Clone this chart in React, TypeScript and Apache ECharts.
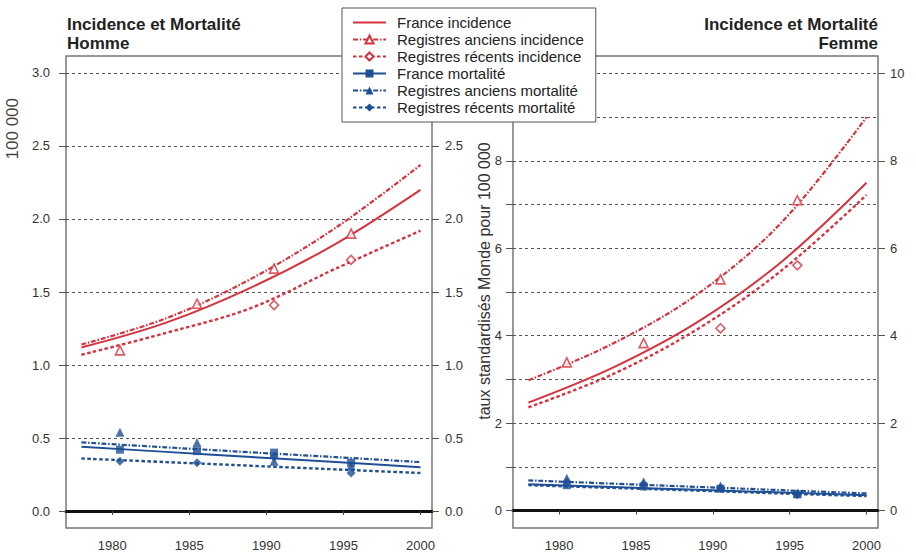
import React, { useEffect, useRef } from 'react';
import * as echarts from 'echarts';

// ---- data ----
const curveYears = [1978, 1983.5, 1989, 1994.5, 2000];
const pointYears = [1980.5, 1985.5, 1990.5, 1995.5];
const recentIncPointYears = [1990.5, 1995.5];
const xTickYears = [1980, 1985, 1990, 1995, 2000];
const hommeTicks = [0, 0.5, 1, 1.5, 2, 2.5, 3];
const hommeRightLabels = [0, 0.5, 1, 1.5, 2, 2.5];
const femmeGridTicks = [0, 1, 2, 3, 4, 5, 6, 7, 8, 9, 10];
const femmeLeftLabels = [0, 2, 4, 6, 8];
const femmeRightLabels = [0, 2, 4, 6, 8, 10];

const seriesNames = [
  'France incidence',
  'Registres anciens incidence',
  'Registres récents incidence',
  'France mortalité',
  'Registres anciens mortalité',
  'Registres récents mortalité',
];

// Homme fitted curves
const hFranceInc = [1.12, 1.29, 1.53, 1.83, 2.2];
const hAnciensInc = [1.14, 1.32, 1.59, 1.94, 2.37];
const hRecentsInc = [1.07, 1.22, 1.39, 1.66, 1.92];
const hFranceMort = [0.44, 0.405, 0.37, 0.335, 0.3];
const hAnciensMort = [0.47, 0.436, 0.402, 0.369, 0.335];
const hRecentsMort = [0.36, 0.335, 0.31, 0.285, 0.26];
// Homme observed points
const hAnciensIncPts = [1.1, 1.42, 1.66, 1.9];
const hRecentsIncPts = [1.41, 1.72];
const hFranceMortPts = [0.42, 0.41, 0.4, 0.33];
const hAnciensMortPts = [0.54, 0.47, 0.34, 0.31];
const hRecentsMortPts = [0.34, 0.33, 0.37, 0.26];

// Femme fitted curves
const fFranceInc = [2.47, 3.27, 4.31, 5.7, 7.5];
const fAnciensInc = [2.98, 3.82, 4.95, 6.6, 9.0];
const fRecentsInc = [2.36, 3.12, 4.15, 5.5, 7.22];
const fFranceMort = [0.6, 0.537, 0.475, 0.412, 0.35];
const fAnciensMort = [0.69, 0.615, 0.54, 0.465, 0.39];
const fRecentsMort = [0.58, 0.517, 0.455, 0.39, 0.33];
// Femme observed points
const fAnciensIncPts = [3.39, 3.83, 5.29, 7.1];
const fRecentsIncPts = [4.17, 5.61];
const fFranceMortPts = [0.58, 0.55, 0.5, 0.37];
const fAnciensMortPts = [0.74, 0.66, 0.56, 0.4];
const fRecentsMortPts = [0.66, 0.6, 0.52, 0.36];

const RED = '#d6333f';
const BLUE = '#1f4f94';
const DASHDOT = [5, 1.8, 1.5, 1.8];
const DASHED = [3.5, 2.5];
const FONT = '"Liberation Sans", Arial, Helvetica, sans-serif';

type Style = { color: string; dash: any; symbol: string; hollow: boolean; width: number };
const styles: Style[] = [
  { color: RED, dash: 'solid', symbol: 'none', hollow: false, width: 2 },
  { color: RED, dash: DASHDOT, symbol: 'triangle', hollow: true, width: 2.2 },
  { color: RED, dash: DASHED, symbol: 'diamond', hollow: true, width: 2.4 },
  { color: BLUE, dash: 'solid', symbol: 'rect', hollow: false, width: 2 },
  { color: BLUE, dash: DASHDOT, symbol: 'triangle', hollow: false, width: 2.2 },
  { color: BLUE, dash: DASHED, symbol: 'diamond', hollow: false, width: 2.4 },
];

function itemStyleFor(s: Style) {
  return s.hollow
    ? { color: '#fff', borderColor: s.color, borderWidth: 1.6 }
    : { color: s.color, borderColor: s.color, borderWidth: 0 };
}

function curve(idx: number, grid: number, vals: number[]) {
  const s = styles[idx];
  return {
    type: 'line',
    name: seriesNames[idx],
    xAxisIndex: grid,
    yAxisIndex: grid * 2,
    data: curveYears.map((x, i) => [x, vals[i]]),
    smooth: 0.35,
    showSymbol: false,
    symbol: s.symbol,
    symbolSize: 9,
    itemStyle: itemStyleFor(s),
    lineStyle: { color: s.color, width: s.width, type: s.dash },
    z: 3,
    silent: true,
  };
}

function points(idx: number, grid: number, xs: number[], vals: number[]) {
  const s = styles[idx];
  return {
    type: 'scatter',
    name: seriesNames[idx],
    xAxisIndex: grid,
    yAxisIndex: grid * 2,
    data: xs.map((x, i) => [x, vals[i]]),
    symbol: s.symbol,
    symbolSize: s.symbol === 'rect' ? 8 : 9,
    itemStyle: itemStyleFor(s),
    z: 4,
    silent: true,
  };
}

const labelStyle = { color: '#333', fontSize: 13, fontFamily: FONT };

function xAxis(grid: number) {
  return {
    type: 'value',
    gridIndex: grid,
    min: 1977,
    max: 2000.75,
    axisLine: { show: true, lineStyle: { color: '#111', width: 3 } },
    axisTick: { show: true, length: 4, customValues: xTickYears, lineStyle: { color: '#444' } },
    axisLabel: { ...labelStyle, margin: 11, customValues: xTickYears, formatter: (v: number) => String(v) },
    splitLine: { show: false },
  };
}

function titleText(text: string, x: number, y: number, align: string) {
  return {
    type: 'text', x, y,
    style: { text, font: `bold 17px ${FONT}`, fill: '#222', textAlign: align, textVerticalAlign: 'middle', align, verticalAlign: 'middle' },
  };
}

function App() {
  const ref = useRef<HTMLDivElement>(null);
  useEffect(() => {
    document.body.style.margin = '0';
    const chart = echarts.init(ref.current!, null, { renderer: 'svg' });
    const gridLine = { show: true, lineStyle: { color: '#555', width: 1, type: [3, 3] } };
    const option: any = {
      animation: false,
      backgroundColor: '#fff',
      textStyle: { fontFamily: FONT },
      grid: [
        { left: 66, top: 56, width: 366, height: 472, show: true, borderColor: '#777', borderWidth: 1.5, backgroundColor: 'transparent' },
        { left: 513, top: 56, width: 365, height: 472, show: true, borderColor: '#777', borderWidth: 1.5, backgroundColor: 'transparent' },
      ],
      xAxis: [xAxis(0), xAxis(1)],
      yAxis: [
        {
          type: 'value', gridIndex: 0, position: 'left', min: -0.1164, max: 3.1164,
          axisLine: { show: false },
          axisTick: { show: true, length: 7, customValues: hommeTicks, lineStyle: { color: '#555' } },
          axisLabel: { ...labelStyle, margin: 16, customValues: hommeTicks, formatter: (v: number) => v.toFixed(1) },
          splitLine: gridLine,
        },
        {
          type: 'value', gridIndex: 0, position: 'right', min: -0.1164, max: 3.1164,
          axisLine: { show: false },
          axisTick: { show: true, length: 7, customValues: hommeRightLabels, lineStyle: { color: '#555' } },
          axisLabel: { ...labelStyle, margin: 13, customValues: hommeRightLabels, formatter: (v: number) => v.toFixed(1) },
          splitLine: { show: false },
        },
        {
          type: 'value', gridIndex: 1, position: 'left', min: -0.4, max: 10.4,
          axisLine: { show: false },
          axisTick: { show: true, length: 7, customValues: femmeGridTicks, lineStyle: { color: '#555' } },
          axisLabel: { ...labelStyle, margin: 11, customValues: femmeLeftLabels, formatter: (v: number) => String(v) },
          splitLine: gridLine,
        },
        {
          type: 'value', gridIndex: 1, position: 'right', min: -0.4, max: 10.4,
          axisLine: { show: false },
          axisTick: { show: true, length: 7, customValues: femmeRightLabels, lineStyle: { color: '#555' } },
          axisLabel: { ...labelStyle, margin: 12, customValues: femmeRightLabels, formatter: (v: number) => String(v) },
          splitLine: { show: false },
        },
      ],
      legend: {
        left: 342,
        top: 8,
        orient: 'vertical',
        padding: [7, 12, 7, 10],
        itemGap: 2,
        itemWidth: 33,
        itemHeight: 10,
        selectedMode: false,
        backgroundColor: '#fff',
        borderColor: '#555',
        borderWidth: 1,
        z: 10,
        textStyle: { color: '#222', fontSize: 15, fontFamily: FONT, padding: [0, 0, 0, 6] },
        data: seriesNames.map((n, i) => (i === 0 ? { name: n, itemStyle: { opacity: 0 } } : { name: n })),
      },
      graphic: [
        titleText('Incidence et Mortalité', 67, 24, 'left'),
        titleText('Homme', 67, 43, 'left'),
        titleText('Incidence et Mortalité', 878, 24, 'right'),
        titleText('Femme', 878, 43, 'right'),
        {
          type: 'text', x: 12, y: 98, rotation: Math.PI / 2,
          style: { text: '100 000', font: `17px ${FONT}`, fill: '#444', textAlign: 'right', textVerticalAlign: 'middle', align: 'right', verticalAlign: 'middle' },
        },
        {
          type: 'text', x: 484, y: 281, rotation: Math.PI / 2,
          style: { text: 'taux standardisés Monde pour 100 000', font: `16px ${FONT}`, fill: '#333', textAlign: 'center', textVerticalAlign: 'middle', align: 'center', verticalAlign: 'middle' },
        },
      ],
      series: [
        curve(0, 0, hFranceInc),
        curve(1, 0, hAnciensInc),
        curve(2, 0, hRecentsInc),
        curve(3, 0, hFranceMort),
        curve(4, 0, hAnciensMort),
        curve(5, 0, hRecentsMort),
        curve(0, 1, fFranceInc),
        curve(1, 1, fAnciensInc),
        curve(2, 1, fRecentsInc),
        curve(3, 1, fFranceMort),
        curve(4, 1, fAnciensMort),
        curve(5, 1, fRecentsMort),
        points(1, 0, pointYears, hAnciensIncPts),
        points(2, 0, recentIncPointYears, hRecentsIncPts),
        points(3, 0, pointYears, hFranceMortPts),
        points(4, 0, pointYears, hAnciensMortPts),
        points(5, 0, pointYears, hRecentsMortPts),
        points(1, 1, pointYears, fAnciensIncPts),
        points(2, 1, recentIncPointYears, fRecentsIncPts),
        points(3, 1, pointYears, fFranceMortPts),
        points(4, 1, pointYears, fAnciensMortPts),
        points(5, 1, pointYears, fRecentsMortPts),
      ],
    };
    chart.setOption(option);
    return () => chart.dispose();
  }, []);
  return <div ref={ref} style={{ width: 916, height: 555 }} />;
}

export default App;
